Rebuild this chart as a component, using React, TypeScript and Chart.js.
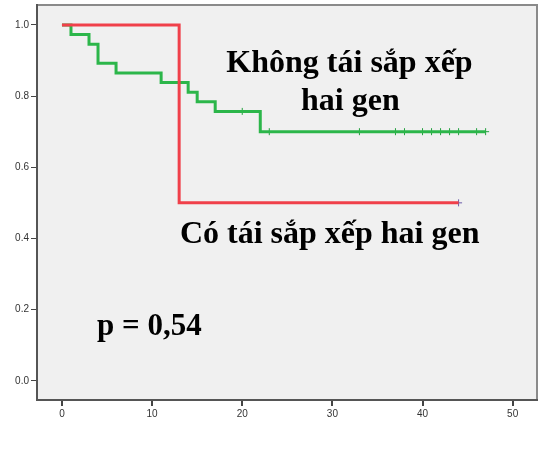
import React, { useEffect, useRef } from "react";
import { Chart, registerables } from "chart.js";

Chart.register(...registerables);

// Kaplan-Meier: "Không tái sắp xếp hai gen" (green)
const greenTimes = [0, 1, 3, 4, 6, 11, 14, 15, 17, 22, 47];
const greenSurv = [1.0, 0.973, 0.946, 0.892, 0.865, 0.838, 0.811, 0.784, 0.757, 0.70, 0.70];
const greenCensor = [20, 23, 33, 37, 38, 40, 41, 42, 43, 44, 46, 47];

// "Có tái sắp xếp hai gen" (red)
const redTimes = [0, 13, 44];
const redSurv = [1.0, 0.5, 0.5];
const redCensor = [44];

const xTicks = [0, 10, 20, 30, 40, 50];
const yTicks = [0.0, 0.2, 0.4, 0.6, 0.8, 1.0];

const labelGreen1 = "Không tái sắp xếp";
const labelGreen2 = "hai gen";
const labelRed = "Có tái sắp xếp hai gen";
const pText = "p = 0,54";

function survAt(times: number[], surv: number[], t: number): number {
  let v = surv[0];
  for (let i = 0; i < times.length; i++) {
    if (times[i] <= t) v = surv[i];
  }
  return v;
}

const plotBg = {
  id: "plotBg",
  beforeDraw(chart: any) {
    const { ctx, chartArea } = chart;
    ctx.save();
    ctx.fillStyle = "#f0f0f0";
    ctx.fillRect(chartArea.left, chartArea.top, chartArea.right - chartArea.left, chartArea.bottom - chartArea.top);
    ctx.strokeStyle = "#8a8a8a";
    ctx.lineWidth = 2;
    ctx.beginPath();
    ctx.moveTo(chartArea.left, chartArea.top);
    ctx.lineTo(chartArea.right, chartArea.top);
    ctx.lineTo(chartArea.right, chartArea.bottom);
    ctx.stroke();
    ctx.restore();
  },
};

const annotations = {
  id: "kmText",
  afterDraw(chart: any) {
    const { ctx } = chart;
    const xs = chart.scales.x;
    const ys = chart.scales.y;
    ctx.save();
    ctx.fillStyle = "#000";
    ctx.textAlign = "center";
    ctx.textBaseline = "alphabetic";
    const items: [string, number, number, number][] = [
      [labelGreen1, 31.9, 0.867, 32],
      [labelGreen2, 32.0, 0.762, 32],
      [labelRed, 29.7, 0.386, 32],
      [pText, 9.7, 0.129, 31],
    ];
    for (const [t, x, y, size] of items) {
      ctx.font = `bold ${size}px 'Liberation Serif', 'Times New Roman', serif`;
      ctx.fillText(t, xs.getPixelForValue(x), ys.getPixelForValue(y));
    }
    ctx.restore();
  },
};

export default function App() {
  const ref = useRef<HTMLCanvasElement | null>(null);
  useEffect(() => {
    if (!ref.current) return;
    const greenLine = greenTimes.map((t, i) => ({ x: t, y: greenSurv[i] }));
    const redLine = redTimes.map((t, i) => ({ x: t, y: redSurv[i] }));
    const greenC = greenCensor.map((t) => ({ x: t, y: survAt(greenTimes, greenSurv, t) }));
    const redC = redCensor.map((t) => ({ x: t, y: survAt(redTimes, redSurv, t) }));
    const chart = new Chart(ref.current, {
      type: "scatter",
      data: {
        datasets: [
          {
            label: "red",
            data: redLine,
            showLine: true,
            stepped: "before",
            borderColor: "#f0404a",
            borderWidth: 3,
            pointRadius: 0,
            fill: false,
          },
          {
            label: "green",
            data: greenLine,
            showLine: true,
            stepped: "before",
            borderColor: "#2cb64a",
            borderWidth: 3,
            pointRadius: 0,
            fill: false,
          },
          {
            label: "greenCensor",
            data: greenC,
            showLine: false,
            pointStyle: "cross",
            pointRadius: 3.5,
            borderColor: "#22a03e",
            borderWidth: 1,
            backgroundColor: "#22a03e",
          },
          {
            label: "redCensor",
            data: redC,
            showLine: false,
            pointStyle: "cross",
            pointRadius: 3.5,
            borderColor: "#6a5aa8",
            borderWidth: 1,
            backgroundColor: "#6a5aa8",
          },
        ],
      } as any,
      options: {
        animation: false,
        responsive: false,
        maintainAspectRatio: false,
        layout: { padding: { left: 0, top: 5, right: 1, bottom: 0 } },
        plugins: { legend: { display: false }, tooltip: { enabled: false } },
        scales: {
          x: {
            type: "linear",
            min: -2.77,
            max: 52.7,
            afterBuildTicks: (s: any) => {
              s.ticks = xTicks.map((v) => ({ value: v }));
            },
            afterFit: (s: any) => {
              s.height = 50;
              s.paddingLeft = 0;
              s.paddingRight = 0;
            },
            grid: { display: true, drawOnChartArea: false, drawTicks: true, tickLength: 6, color: "#444", lineWidth: 2 },
            border: { display: true, color: "#555", width: 2 },
            ticks: {
              padding: 2,
              maxRotation: 0,
              color: "#333",
              font: { family: "'Liberation Sans', Arial, sans-serif", size: 10 },
              callback: (v: any) => String(v),
            },
          },
          y: {
            type: "linear",
            min: -0.054,
            max: 1.056,
            afterBuildTicks: (s: any) => {
              s.ticks = yTicks.map((v) => ({ value: v }));
            },
            afterFit: (s: any) => {
              s.width = 37;
              s.paddingTop = 0;
              s.paddingBottom = 0;
            },
            grid: { display: true, drawOnChartArea: false, drawTicks: true, tickLength: 6, color: "#444", lineWidth: 1 },
            border: { display: true, color: "#555", width: 2 },
            ticks: {
              padding: 2,
              color: "#333",
              font: { family: "'Liberation Sans', Arial, sans-serif", size: 10 },
              callback: (v: any) => Number(v).toFixed(1),
            },
          },
        },
      },
      plugins: [plotBg, annotations],
    });
    return () => chart.destroy();
  }, []);
  return (
    <div style={{ position: "fixed", left: 0, top: 0, width: 539, height: 450, overflow: "hidden", background: "#fff" }}>
      <canvas ref={ref} width={542} height={450} style={{ width: 542, height: 450, display: "block" }} />
    </div>
  );
}
